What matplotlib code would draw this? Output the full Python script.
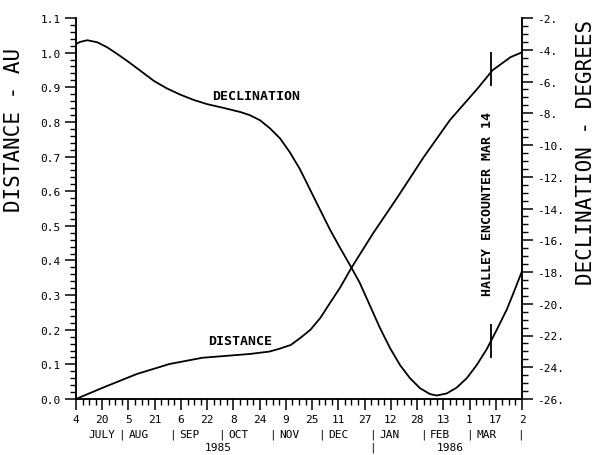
import numpy as np
import matplotlib
matplotlib.use('Agg')
import matplotlib.pyplot as plt
from matplotlib.ticker import MultipleLocator, FuncFormatter

plt.rcParams['font.family'] = 'DejaVu Sans Mono'

# days after 4 July 1985
dist_days = [0, 16, 37, 57, 77, 98, 106, 118, 124, 131, 137, 143, 149, 155, 161, 168,
             181, 196, 212, 228, 245, 254, 265, 272]
dist_au = [0.0, 0.032, 0.072, 0.101, 0.119, 0.127, 0.130, 0.137, 0.145, 0.156, 0.177,
           0.200, 0.234, 0.278, 0.321, 0.379, 0.477, 0.582, 0.698, 0.805, 0.897, 0.949,
           0.987, 1.001]

decl_days = [0, 2.4, 6.9, 13, 19.1, 25.2, 31.3, 39.5, 47.6, 55.7, 63.9, 72, 80.1, 90.3,
             100.5, 106, 112.2, 118.3, 124.4, 130.5, 136.6, 142.7, 148.8, 154.9, 161,
             168, 173, 185.4, 191.5, 197.6, 203.7, 209.8, 215.9, 220, 226.1, 232.2, 238.3,
             244.4, 250.5, 256.6, 262.7, 266.5, 272]
decl_deg = [-3.64, -3.51, -3.40, -3.53, -3.85, -4.27, -4.71, -5.34, -5.97, -6.45, -6.84,
            -7.17, -7.43, -7.67, -7.93, -8.12, -8.44, -8.95, -9.58, -10.47, -11.53, -12.80,
            -14.07, -15.33, -16.47, -17.73, -18.67, -21.53, -22.79, -23.86, -24.69, -25.32,
            -25.69, -25.78, -25.65, -25.28, -24.69, -23.86, -22.86, -21.64, -20.37, -19.40,
            -17.95]

# Halley encounter, 14 March 1986
start = np.datetime64('1985-07-04')
encounter = (np.datetime64('1986-03-14') - start).astype(int)
enc_dist = 0.952
enc_decl = -22.35

day_labels = ['4', '20', '5', '21', '6', '22', '8', '24', '9', '25', '11', '27',
              '12', '28', '13', '1', '17', '2']
month_names = ['AUG', 'SEP', 'OCT', 'NOV', 'DEC', 'JAN', 'FEB', 'MAR', '']
month_starts = ['1985-08-01', '1985-09-01', '1985-10-01', '1985-11-01', '1985-12-01',
                '1986-01-01', '1986-02-01', '1986-03-01', '1986-04-01']
end_day = (np.datetime64('1986-04-02') - start).astype(int)

fig = plt.figure(figsize=(5.96, 4.56), dpi=100)
ax = fig.add_axes([76 / 596, 56 / 456, 446 / 596, 381 / 456])
ax2 = ax.twinx()

lw = 1.3
ax.plot(dist_days, dist_au, color='black', lw=lw)
ax.plot([encounter], [enc_dist], marker='|', ms=25, mew=lw, color='black')
ax2.plot(decl_days, decl_deg, color='black', lw=lw)
ax2.plot([encounter], [enc_decl], marker='|', ms=24, mew=lw, color='black')

ax.set_xlim(0, end_day)
ax.set_ylim(0, 1.1)
ax2.set_ylim(-26, -2)

ax.yaxis.set_major_locator(MultipleLocator(0.1))
ax.yaxis.set_minor_locator(MultipleLocator(0.02))
ax.yaxis.set_major_formatter(FuncFormatter(lambda v, p: f'{v:.1f}'))
ax2.yaxis.set_major_locator(MultipleLocator(2))
ax2.yaxis.set_minor_locator(MultipleLocator(0.5))
ax2.yaxis.set_major_formatter(FuncFormatter(lambda v, p: f'{v:.0f}.'))

ax.set_xticks(np.arange(0, end_day + 1, 16))
ax.set_xticklabels(day_labels)
ax.xaxis.set_minor_locator(MultipleLocator(4))

for a in (ax, ax2):
    a.tick_params(which='major', length=8, width=1.1, labelsize=8, pad=3, direction='out')
    a.tick_params(which='minor', length=4.5, width=1.0, direction='out')
    for s in a.spines.values():
        s.set_linewidth(1.1)
ax.spines['top'].set_visible(False)
ax2.spines['top'].set_visible(False)

# month and year rows under the day numbers
tr = ax.get_xaxis_transform()
ax.text(28 - 4, -0.092, 'JULY', transform=tr, ha='right', va='center', fontsize=8)
for d, name in zip(month_starts, month_names):
    x = (np.datetime64(d) - start).astype(int)
    ax.text(x, -0.092, '|', transform=tr, ha='center', va='center', fontsize=8)
    ax.text(x + 4, -0.092, name, transform=tr, ha='left', va='center', fontsize=8)
ax.text(87, -0.125, '1985', transform=tr, ha='center', va='center', fontsize=8)
jan1 = (np.datetime64('1986-01-01') - start).astype(int)
ax.text(jan1, -0.125, '|', transform=tr, ha='center', va='center', fontsize=8)
ax.text(228, -0.125, '1986', transform=tr, ha='center', va='center', fontsize=8)

ax.text(110, 0.875, 'DECLINATION', ha='center', va='center', fontsize=9.5, fontweight='bold')
ax.text(100, 0.17, 'DISTANCE', ha='center', va='center', fontsize=9.5, fontweight='bold')
ax.text(251, 0.565, 'HALLEY ENCOUNTER MAR 14', rotation=90, ha='center', va='center',
        fontsize=9.5, fontweight='bold')

fig.text(14 / 596, 1 - 130 / 456, 'DISTANCE - AU', rotation=90, ha='center', va='center',
         fontsize=15)
fig.text(586 / 596, 1 - 152 / 456, 'DECLINATION - DEGREES', rotation=90, ha='center',
         va='center', fontsize=15)

fig.savefig('out.png', dpi=100)
